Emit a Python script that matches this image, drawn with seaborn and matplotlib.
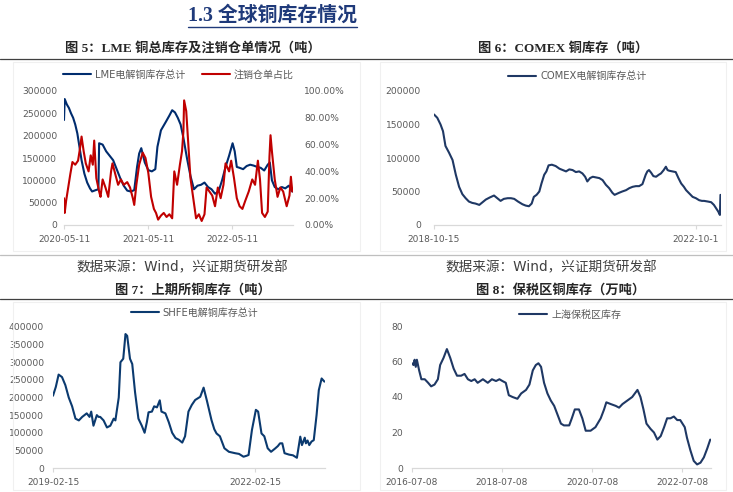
import numpy as np
import pandas as pd
import seaborn as sns
import matplotlib.pyplot as plt
from matplotlib.lines import Line2D
from matplotlib.patches import Rectangle
from matplotlib.ticker import StrMethodFormatter

sns.set_theme(style="white")
plt.rcParams["font.family"] = ["DejaVu Sans", "Noto Sans CJK SC"]

# ---------- data: x = months after the first date ----------
# LME total copper stock (tonnes, thousands) and cancelled warrant ratio (%)
lme_start = "2020-05-11"
lme_months = [0, 0.1, 0.4, 0.7, 1.0, 1.3, 1.6, 1.9, 2.2, 2.5, 2.9, 3.3, 3.7, 4.0, 4.5, 4.9,
              5.0, 5.5, 6.0, 6.5, 7.0, 7.5, 8.0, 8.5, 9.0, 9.5, 10.0, 10.4, 10.7, 11.0, 11.5,
              12.0, 12.5, 13.0, 13.3, 13.8, 14.5, 15.0, 15.4, 15.8, 16.2, 16.6, 17.0, 17.5,
              18.0, 18.5, 19.0, 19.5, 20.0, 20.5, 21.0, 21.5, 22.0, 22.5, 23.0, 23.5, 24.0,
              24.3, 24.6, 25.0, 25.5, 26.0, 26.5, 27.0, 27.5, 28.0, 28.5, 29.0, 29.3, 29.6,
              30.0, 30.5, 31.0, 31.5, 32.0, 32.5]
lme_stock = [235, 282, 270, 262, 250, 240, 225, 205, 175, 145, 115, 95, 82, 75, 78, 80,
             183, 180, 165, 155, 145, 125, 105, 88, 77, 75, 78, 130, 160, 172, 140,
             123, 120, 125, 175, 212, 231, 245, 257, 252, 240, 225, 195, 150,
             110, 80, 88, 90, 95, 85, 80, 70, 75, 100, 130, 155, 183,
             165, 130, 128, 125, 132, 135, 133, 130, 128, 122, 135, 140, 100,
             85, 80, 85, 82, 88, 75]
cancel_months = [0.0, 0.1, 0.3, 0.6, 0.9, 1.2, 1.6, 2.0, 2.3, 2.5, 2.8, 3.1, 3.5, 3.8, 4.1,
                 4.3, 4.6, 5.0, 5.2, 5.5, 5.9, 6.3, 6.7, 6.9, 7.3, 7.7, 8.1, 8.5, 9.0, 9.4,
                 9.8, 10.0, 10.3, 10.7, 11.2, 11.6, 12.0, 12.4, 12.8, 13.1, 13.4, 13.8, 14.2,
                 14.6, 15.0, 15.4, 15.7, 16.1, 16.5, 16.8, 17.0, 17.1, 17.4, 17.7, 18.0, 18.4,
                 18.8, 19.2, 19.6, 20.0, 20.3, 20.7, 21.1, 21.5, 21.9, 22.3, 22.7, 23.0, 23.5,
                 23.8, 24.2, 24.6, 25.0, 25.4, 25.8, 26.3, 26.8, 27.2, 27.6, 27.9, 28.2, 28.6,
                 29.0, 29.25, 29.4, 29.6, 30.0, 30.4, 30.8, 31.2, 31.7, 32.1, 32.3, 32.5]
cancel_ratio = [20, 9, 18, 28, 38, 47, 45, 48, 58, 66, 55, 46, 40, 52, 45,
                63, 35, 25, 21, 34, 28, 21, 40, 46, 38, 30, 34, 30, 32, 28,
                20, 15, 30, 45, 54, 50, 39, 21, 12, 9, 4, 7, 9,
                6, 8, 5, 40, 30, 45, 55, 70, 93, 85, 60, 35, 20,
                5, 8, 3, 8, 28, 25, 22, 14, 28, 20, 30, 46, 40,
                48, 35, 20, 14, 12, 18, 25, 34, 30, 48, 34, 9, 6,
                10, 51, 67, 55, 34, 21, 28, 25, 14, 22, 36, 25]

# COMEX copper stock (tonnes, thousands)
comex_start = "2018-10-15"
comex_months = [0, 0.6, 1.2, 1.65, 2.1, 2.75, 3.4, 4.0, 4.6, 5.2, 5.8, 6.4, 7.0, 7.6, 8.3,
                8.9, 9.5, 10.2, 11.0, 11.6, 12.2, 12.8, 13.5, 14.1, 14.7, 15.4, 16.2, 16.8,
                17.4, 17.9, 18.3, 18.8, 19.3, 19.7, 20.2, 20.6, 21.0, 21.6, 22.3, 23.0, 23.6,
                24.2, 24.8, 25.4, 26.0, 26.6, 27.2, 27.7, 28.1, 28.6, 29.1, 29.7, 30.3, 30.9,
                31.5, 32.1, 32.7, 33.1, 33.9, 34.5, 35.2, 35.8, 36.4, 37.0, 37.6, 38.2, 38.5,
                38.8, 39.1, 39.4, 39.8, 40.2, 40.7, 41.2, 41.6, 42.1, 42.5, 42.8, 43.1, 43.7,
                44.3, 44.8, 45.3, 45.8, 46.2, 46.8, 47.4, 48.0, 48.6, 49.1, 49.5, 50.2, 50.8,
                51.3, 51.7, 52.1, 52.4, 52.5]
comex_stock = [165, 160, 150, 140, 118, 108, 97, 75, 57, 46, 40, 35, 33, 32, 30,
               34, 38, 41, 44, 40, 36, 39, 40, 40, 39, 35, 31, 29,
               28, 32, 42, 45, 50, 62, 75, 80, 89, 90, 88, 84, 82,
               80, 83, 82, 79, 80, 77, 72, 65, 70, 72, 71, 70, 67,
               60, 55, 48, 45, 48, 50, 52, 55, 57, 58, 58, 61, 68,
               75, 80, 82, 78, 73, 72, 75, 77, 82, 87, 82, 81, 80,
               79, 70, 62, 57, 52, 47, 42, 40, 37, 36, 36, 35, 34,
               30, 25, 20, 15, 45]

# SHFE copper stock (tonnes, thousands)
shfe_start = "2019-02-15"
shfe_months = [0, 0.5, 1.0, 1.6, 2.2, 2.8, 3.4, 4.0, 4.6, 5.2, 5.6, 6.0, 6.5, 6.8, 7.2,
               7.8, 8.1, 8.4, 9.0, 9.6, 10.2, 10.8, 11.1, 11.7, 12.0, 12.5, 12.9, 13.2, 13.7,
               14.1, 14.6, 15.2, 15.8, 16.3, 16.7, 17.0, 17.6, 18.0, 18.5, 19.0, 19.3, 20.0,
               20.6, 21.2, 21.8, 22.4, 23.0, 23.5, 24.1, 24.7, 25.3, 26.2, 26.8, 27.4, 28.2,
               28.7, 29.1, 29.7, 30.5, 31.3, 32.4, 33.1, 33.9, 34.5, 34.8, 35.4, 36.1, 36.5,
               37.1, 37.6, 38.2, 38.8, 39.5, 40.0, 40.4, 40.8, 41.2, 42.0, 42.7, 43.4, 44.0,
               44.3, 44.8, 45.0, 45.3, 45.6, 46.0, 46.4, 46.9, 47.3, 47.8, 48.3]
shfe_stock = [205, 230, 265, 258, 235, 200, 175, 140, 135, 145, 150, 155, 145, 160, 120,
              150, 145, 145, 135, 115, 120, 140, 135, 200, 300, 310, 380, 375, 310,
              295, 215, 140, 120, 100, 130, 158, 160, 175, 172, 192, 160, 155,
              130, 100, 85, 80, 72, 90, 160, 179, 193, 202, 228, 190, 136,
              110, 98, 90, 56, 46, 42, 40, 32, 35, 37, 108, 165, 160,
              98, 90, 56, 46, 55, 62, 70, 70, 42, 38, 36, 29, 89,
              65, 86, 70, 78, 65, 75, 79, 150, 221, 254, 245]

# Shanghai bonded zone copper stock (10k tonnes)
bond_start = "2016-07-08"
bond_months = [0, 0.4, 0.7, 1.0, 1.3, 1.9, 2.5, 3.4, 4.3, 5.1, 6.0, 6.9, 7.5, 8.4, 9.3,
               10.2, 11.1, 12.0, 13.1, 14.0, 14.9, 15.8, 16.7, 17.5, 18.9, 20.2, 21.3, 22.4,
               23.3, 24.1, 25.0, 25.8, 26.8, 28.1, 29.1, 30.4, 31.3, 32.2, 33.0, 33.7, 34.4,
               35.2, 36.1, 37.0, 37.9, 38.8, 39.7, 40.5, 41.9, 42.6, 43.4, 44.5, 45.4, 46.3,
               47.6, 48.9, 50.3, 51.2, 51.8, 53.0, 54.3, 55.2, 56.1, 57.4, 58.7, 60.1, 60.9,
               61.7, 62.5, 63.6, 64.5, 65.4, 66.3, 67.2, 68.0, 68.9, 69.8, 70.7, 71.5, 72.7,
               73.3, 74.2, 75.1, 76.0, 76.9, 77.8, 78.7, 79.5]
bond_stock = [59, 58, 61, 57, 61, 55, 50, 50, 48, 46, 47, 50, 58, 62, 67,
              62, 56, 52, 52, 53, 50, 49, 50, 48, 50, 48, 50, 49,
              50, 49, 48, 41, 40, 39, 42, 44, 47, 55, 58, 59, 57,
              48, 42, 38, 35, 30, 25, 24, 24, 28, 33, 33, 28, 21,
              21, 23, 28, 33, 37, 36, 35, 34, 36, 38, 40, 44, 40,
              33, 25, 22, 20, 16, 18, 23, 28, 28, 29, 27, 27, 23,
              17, 10, 4, 2, 3, 6, 11, 16]

DAYS = 30.4375


def to_dates(start, months):
    return pd.Timestamp(start) + pd.to_timedelta(np.asarray(months) * DAYS, unit="D")


def style_axes(ax, start, end_month, xticks, xlabels, ylim, yticks, ypad):
    ax.set_xlim(pd.Timestamp(start), to_dates(start, [end_month])[0])
    ax.set_ylim(*ylim)
    ax.set_yticks(yticks)
    ax.yaxis.set_major_formatter(StrMethodFormatter("{x:.0f}"))
    ax.set_xticks([pd.Timestamp(t) for t in xticks])
    ax.set_xticklabels(xlabels)
    for s in ["top", "right", "left"]:
        ax.spines[s].set_visible(False)
    ax.spines["bottom"].set_color("#D9D9D9")
    ax.spines["bottom"].set_linewidth(0.9)
    ax.tick_params(axis="x", bottom=True, length=3, width=0.8, color="#D9D9D9",
                   labelsize=6.5, labelcolor="#595959", pad=4)
    ax.tick_params(axis="y", length=0, labelsize=6.6, labelcolor="#595959", pad=ypad)
    ax.set_xlabel("")
    ax.set_ylabel("")
    ax.grid(False)
    ax.patch.set_alpha(0)


W, H = 733, 492
fig = plt.figure(figsize=(W / 100, H / 100), dpi=100)


def px_axes(x0, y0, x1, y1):
    return fig.add_axes([x0 / W, 1 - y1 / H, (x1 - x0) / W, (y1 - y0) / H])


# faint frames round each chart
for (x0, y0, x1, y1) in [(13, 62, 360, 251), (380, 62, 726, 251),
                         (13, 302, 360, 490), (380, 302, 726, 490)]:
    fig.add_artist(Rectangle((x0 / W, 1 - y1 / H), (x1 - x0) / W, (y1 - y0) / H,
                             transform=fig.transFigure, fill=False,
                             edgecolor="#F0F0F0", linewidth=0.8))

leg_kw = dict(frameon=False, fontsize=7.2, labelcolor="#595959", handlelength=2.8,
              handletextpad=0.4, borderpad=0, loc="center")

# ---------- figure 5: LME ----------
ax1 = px_axes(64, 91, 293, 225)
lme = pd.DataFrame({"date": to_dates(lme_start, lme_months), "v": np.array(lme_stock) * 1000})
cancel = pd.DataFrame({"date": to_dates(lme_start, cancel_months), "v": cancel_ratio})
sns.lineplot(data=lme, x="date", y="v", ax=ax1, color="#002C6E", linewidth=1.5,
             label="LME电解铜库存总计")
ax1r = ax1.twinx()
sns.lineplot(data=cancel, x="date", y="v", ax=ax1r, color="#C00000", linewidth=1.5,
             label="注销仓单占比")
style_axes(ax1, lme_start, 32.6, ["2020-05-11", "2021-05-11", "2022-05-11"],
           ["2020-05-11", "2021-05-11", "2022-05-11"],
           (0, 300000), np.arange(0, 300001, 50000), 5)
ax1r.set_ylim(0, 100)
ax1r.set_yticks(np.arange(0, 101, 20))
ax1r.yaxis.set_major_formatter(StrMethodFormatter("{x:.2f}%"))
for s in ax1r.spines.values():
    s.set_visible(False)
ax1r.tick_params(axis="y", length=0, labelsize=6.6, labelcolor="#595959", pad=8)
ax1r.set_ylabel("")
ax1r.grid(False)
h1, l1 = ax1.get_legend_handles_labels()
h2, l2 = ax1r.get_legend_handles_labels()
ax1r.get_legend().remove()
ax1.legend(h1 + h2, l1 + l2, ncol=2, columnspacing=1.6,
           bbox_to_anchor=(0.5, 1.12), **leg_kw)

# ---------- figure 6: COMEX ----------
ax2 = px_axes(434, 91, 721, 225)
comex = pd.DataFrame({"date": to_dates(comex_start, comex_months),
                      "v": np.array(comex_stock) * 1000})
sns.lineplot(data=comex, x="date", y="v", ax=ax2, color="#1F3864", linewidth=1.5,
             label="COMEX电解铜库存总计")
style_axes(ax2, comex_start, 52.6, ["2018-10-15", "2022-10-15"],
           ["2018-10-15", "2022-10-1"],
           (0, 200000), np.arange(0, 200001, 50000), 9.4)
ax2.legend(bbox_to_anchor=(0.5, 1.11), **leg_kw)

# ---------- figure 7: SHFE ----------
ax3 = px_axes(53, 327, 325, 468)
shfe = pd.DataFrame({"date": to_dates(shfe_start, shfe_months),
                     "v": np.array(shfe_stock) * 1000})
sns.lineplot(data=shfe, x="date", y="v", ax=ax3, color="#0B3A6F", linewidth=1.5,
             label="SHFE电解铜库存总计")
style_axes(ax3, shfe_start, 48.4, ["2019-02-15", "2022-02-15"],
           ["2019-02-15", "2022-02-15"],
           (0, 400000), np.arange(0, 400001, 50000), 6.5)
ax3.legend(bbox_to_anchor=(0.52, 1.10), **leg_kw)

# ---------- figure 8: bonded zone ----------
ax4 = px_axes(412, 326, 711, 468)
bond = pd.DataFrame({"date": to_dates(bond_start, bond_months), "v": bond_stock})
sns.lineplot(data=bond, x="date", y="v", ax=ax4, color="#1F3864", linewidth=1.5,
             label="上海保税区库存")
bond_ticks = ["2016-07-08", "2018-07-08", "2020-07-08", "2022-07-08"]
style_axes(ax4, bond_start, 79.7, bond_ticks, bond_ticks,
           (0, 80), np.arange(0, 81, 20), 6.5)
ax4.legend(bbox_to_anchor=(0.53, 1.08), **leg_kw)

# ---------- page texts and rules ----------
serif_cjk = ["Liberation Serif", "Noto Sans CJK SC"]
fig.text(272 / W, 1 - 16 / H, "1.3 全球铜库存情况", ha="center", va="center",
         fontsize=14.3, fontweight="bold", color="#1F3A7A", family=serif_cjk)
fig.add_artist(Line2D([188 / W, 357 / W], [1 - 27 / H] * 2, color="#1F3A7A", linewidth=1.0))

titles = [(193, 48, "图 5：LME 铜总库存及注销仓单情况（吨）"),
          (563, 48, "图 6：COMEX 铜库存（吨）"),
          (193, 290, "图 7：上期所铜库存（吨）"),
          (561, 290, "图 8：保税区铜库存（万吨）")]
for x, y, t in titles:
    fig.text(x / W, 1 - y / H, t, ha="center", va="center", fontsize=9.5,
             fontweight="bold", color="#262626", family=serif_cjk)

for x in (182, 551):
    fig.text(x / W, 1 - 267 / H, "数据来源：Wind，兴证期货研发部", ha="center", va="center",
             fontsize=9.8, color="#404040")

for y, c in [(59, "#404040"), (255, "#BFBFBF"), (299, "#404040")]:
    fig.add_artist(Line2D([0, 1], [1 - y / H] * 2, color=c, linewidth=0.9))

fig.savefig("out.png", dpi=100)
